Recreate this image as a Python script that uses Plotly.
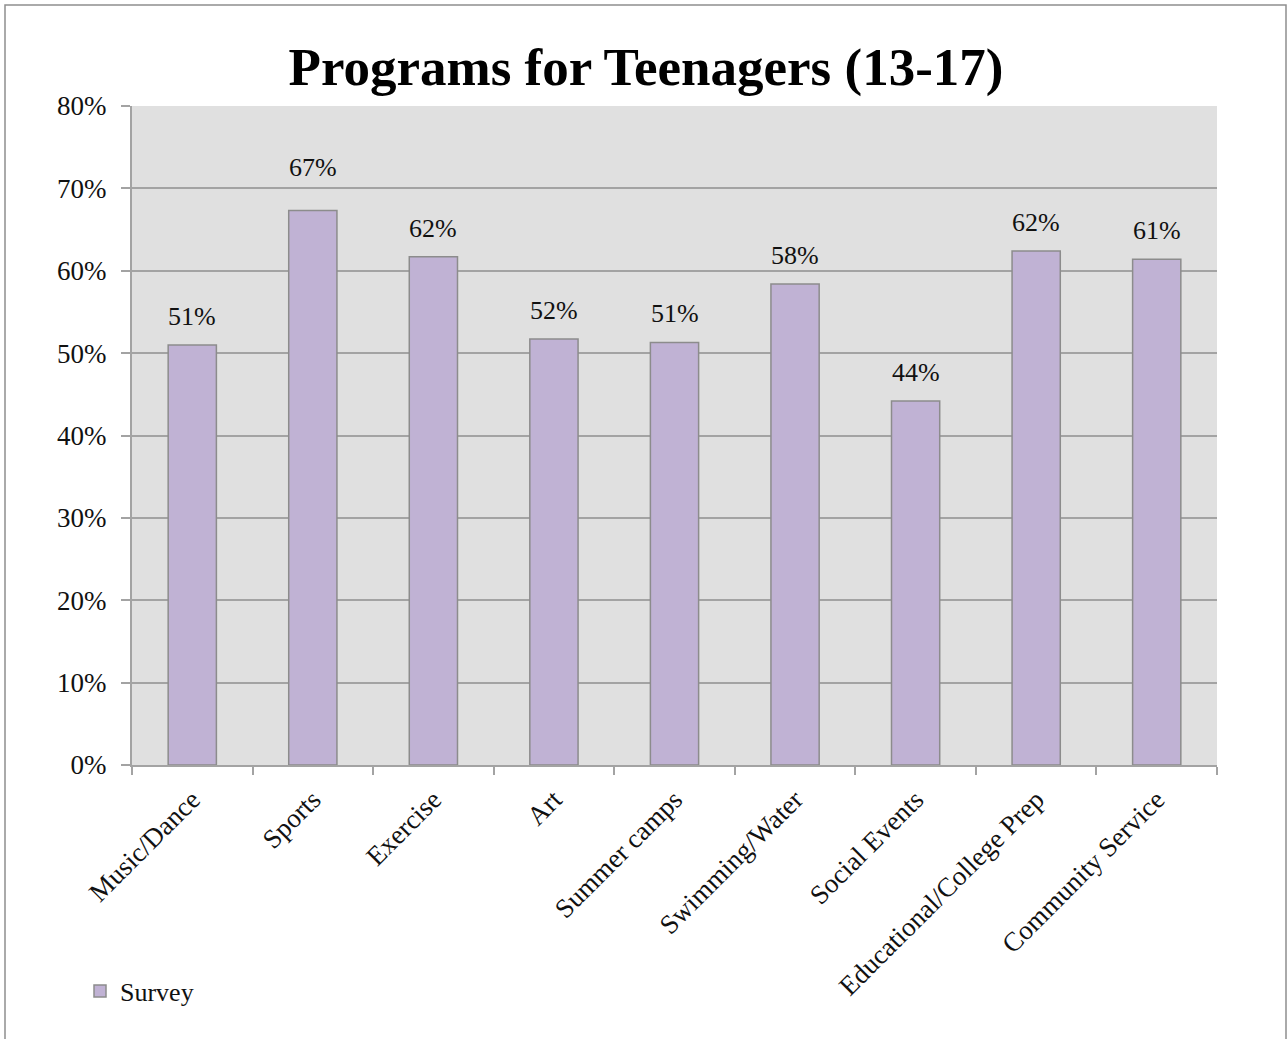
import plotly.graph_objects as go

# Survey results: share of respondents interested in each teen program
categories = [
    "Music/Dance", "Sports", "Exercise", "Art", "Summer camps",
    "Swimming/Water", "Social Events", "Educational/College Prep",
    "Community Service",
]
survey_pct = [51.0, 67.3, 61.7, 51.7, 51.3, 58.4, 44.2, 62.4, 61.4]
y_ticks = [0, 10, 20, 30, 40, 50, 60, 70, 80]

FONT = "Liberation Serif"
GRID = "#a3a3a3"
BAR_FILL = "#c0b2d4"
BAR_EDGE = "#8c8c8c"

W, H = 1287, 1039
L, R, T, B = 132, 70, 106, 274
plot_w = W - L - R
plot_h = H - T - B

# the Sports label sits a little higher than the others
label_nudge = {"Sports": 15}


def px_to_paper(x, y):
    return (x - L) / plot_w, (H - B - y) / plot_h


fig = go.Figure()
fig.add_trace(go.Bar(
    x=categories,
    y=survey_pct,
    name="Survey",
    marker=dict(color=BAR_FILL, line=dict(color=BAR_EDGE, width=1.5)),
    showlegend=True,
))

# value labels above each bar
for cat, v in zip(categories, survey_pct):
    fig.add_annotation(
        x=cat, y=v, text=f"{v:.0f}%", showarrow=False,
        yanchor="bottom", yshift=12 + label_nudge.get(cat, 0),
        font=dict(family=FONT, size=26, color="#111111"),
    )

# outer chart frame (bottom edge runs off the page)
x0, y0 = px_to_paper(5, 5)
x1, y1 = px_to_paper(1286, 1080)
fig.add_shape(
    type="rect", xref="paper", yref="paper",
    x0=x0, x1=x1, y0=y1, y1=y0,
    line=dict(color="#8f8f8f", width=1.5), layer="below",
)

lx, ly = px_to_paper(80, 991)

fig.update_layout(
    width=W, height=H,
    margin=dict(l=L, r=R, t=T, b=B, pad=0),
    paper_bgcolor="white",
    plot_bgcolor="#e0e0e0",
    bargap=0.6,
    title=dict(
        text="<b>Programs for Teenagers (13-17)</b>",
        x=646 / W, xanchor="center", xref="container",
        y=1 - 66 / H, yanchor="middle",
        font=dict(family=FONT, size=53, color="black"),
    ),
    font=dict(family=FONT, color="#111111"),
    legend=dict(
        x=lx, y=ly, xanchor="left", yanchor="middle",
        font=dict(family=FONT, size=26, color="#111111"),
        bgcolor="rgba(0,0,0,0)",
    ),
    xaxis=dict(
        tickangle=-45,
        tickfont=dict(family=FONT, size=27, color="#111111"),
        showline=True, linecolor=GRID, linewidth=2,
        ticks="outside", ticklen=8, tickcolor=GRID, tickwidth=1.5,
        tickson="boundaries",
        ticklabelstandoff=6,
        showgrid=False,
    ),
    yaxis=dict(
        range=[0, 80],
        tickvals=y_ticks,
        ticktext=[f"{t}%" for t in y_ticks],
        tickfont=dict(family=FONT, size=27, color="#111111"),
        showline=True, linecolor=GRID, linewidth=2,
        ticks="outside", ticklen=9, tickcolor=GRID, tickwidth=1.5,
        ticklabelstandoff=9,
        showgrid=True, gridcolor=GRID, gridwidth=1.5,
        zeroline=False,
    ),
)

fig.write_html("out.html")
